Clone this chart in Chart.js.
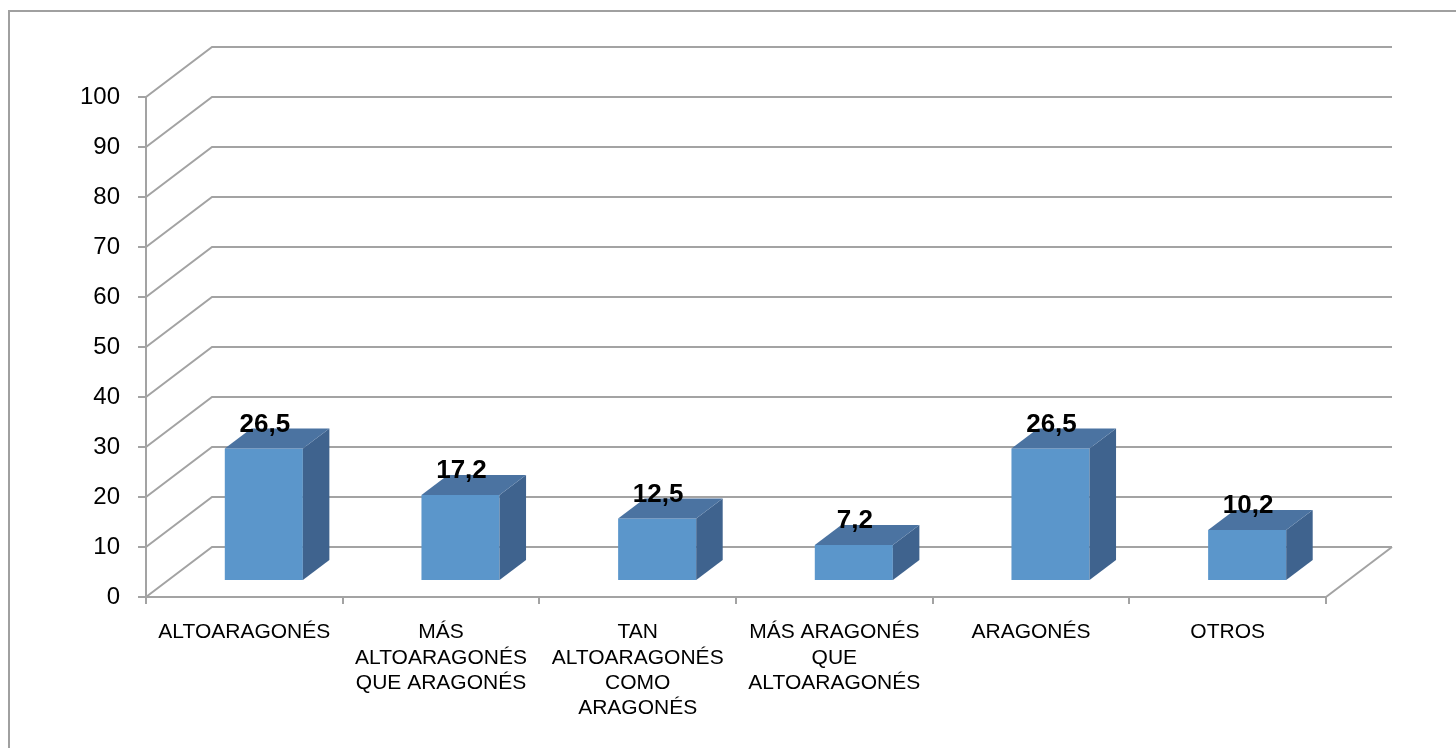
<!DOCTYPE html>
<html>
<head>
<meta charset="utf-8">
<script src="https://cdn.jsdelivr.net/npm/chart.js@4.4.1/dist/chart.umd.min.js"></script>
<style>
  html, body { margin: 0; padding: 0; background: #fff; }
  #wrap { width: 1456px; height: 748px; }
</style>
</head>
<body>
<div id="wrap"><canvas id="chart" width="1456" height="748"></canvas></div>
<script>
const categories = [
  ['ALTOARAGONÉS'],
  ['MÁS', 'ALTOARAGONÉS', 'QUE ARAGONÉS'],
  ['TAN', 'ALTOARAGONÉS', 'COMO', 'ARAGONÉS'],
  ['MÁS ARAGONÉS', 'QUE', 'ALTOARAGONÉS'],
  ['ARAGONÉS'],
  ['OTROS']
]
const values = [26.5, 17.2, 12.5, 7.2, 26.5, 10.2]
const yMin = 0
const yMax = 100
const yStep = 10

const gridColor = '#a3a3a3'
const frontColor = '#5b96cb'
const topColor = '#4b73a1'
const sideColor = '#3f638e'

// depth of the 3d box (back wall offset)
const DX = 66, DY = -50
// where the bar front sits inside the box, and how deep the bars are
const barOffX = 19.5, barOffY = -16
const barDepthX = 26.5, barDepthY = -20

const threeD = {
  id: 'threeD',
  beforeDraw(chart) {
    const c = chart.ctx
    c.save()
    c.strokeStyle = '#a0a0a0'
    c.lineWidth = 2
    c.strokeRect(9, 11, 1460, 760)
    c.restore()
  },
  beforeDatasetsDraw(chart) {
    const c = chart.ctx
    const a = chart.chartArea
    const ys = chart.scales.y
    c.save()
    c.strokeStyle = gridColor
    c.lineWidth = 2
    for (let v = yMin; v <= yMax; v += yStep) {
      const yf = ys.getPixelForValue(v)
      c.beginPath()
      c.moveTo(a.left, yf)
      c.lineTo(a.left + DX, yf + DY)
      c.lineTo(a.right + DX, yf + DY)
      c.stroke()
    }
    c.beginPath()
    c.moveTo(a.right, a.bottom)
    c.lineTo(a.right + DX, a.bottom + DY)
    c.stroke()
    c.restore()
    // bars front face drawn by chart.js, pushed into the box
    c.save()
    c.translate(barOffX, barOffY)
  },
  afterDatasetsDraw(chart) {
    const c = chart.ctx
    c.restore()
    const meta = chart.getDatasetMeta(0)
    const dx = barDepthX, dy = barDepthY
    c.save()
    meta.data.forEach((el, i) => {
      const l = el.x - el.width / 2 + barOffX
      const r = el.x + el.width / 2 + barOffX
      const t = el.y + barOffY
      const b = el.base + barOffY
      c.fillStyle = sideColor
      c.beginPath()
      c.moveTo(r, t); c.lineTo(r + dx, t + dy); c.lineTo(r + dx, b + dy); c.lineTo(r, b)
      c.closePath(); c.fill()
      c.fillStyle = topColor
      c.beginPath()
      c.moveTo(l, t); c.lineTo(l + dx, t + dy); c.lineTo(r + dx, t + dy); c.lineTo(r, t)
      c.closePath(); c.fill()
      c.fillStyle = '#000'
      c.font = 'bold 26px Arial, "Liberation Sans", sans-serif'
      c.textAlign = 'center'
      c.textBaseline = 'alphabetic'
      c.fillText(values[i].toFixed(1).replace('.', ','), (l + r) / 2 + 1, t - 17)
    })
    c.restore()
  }
}

new Chart(document.getElementById('chart'), {
  type: 'bar',
  data: {
    labels: categories,
    datasets: [{
      data: values,
      backgroundColor: frontColor,
      borderWidth: 0,
      categoryPercentage: 1,
      barPercentage: 0.397
    }]
  },
  options: {
    responsive: false,
    animation: false,
    layout: { padding: { top: 97, right: 130, left: 0, bottom: 0 } },
    plugins: { legend: { display: false }, tooltip: { enabled: false } },
    scales: {
      x: {
        afterFit(scale) { scale.height = 151 },
        grid: { offset: true, drawOnChartArea: false, tickLength: 7, color: gridColor, lineWidth: 2 },
        border: { color: gridColor, width: 2 },
        ticks: {
          autoSkip: false, maxRotation: 0, padding: 16, color: '#000',
          font: { family: 'Arial, "Liberation Sans", sans-serif', size: 21, lineHeight: 1.2 }
        }
      },
      y: {
        min: yMin, max: yMax,
        afterFit(scale) { scale.width = 146 },
        grid: { drawOnChartArea: false, tickLength: 8, color: gridColor, lineWidth: 2 },
        border: { color: gridColor, width: 2 },
        ticks: {
          stepSize: yStep, padding: 18, color: '#000',
          font: { family: 'Arial, "Liberation Sans", sans-serif', size: 24 }
        }
      }
    }
  },
  plugins: [threeD]
})
</script>
</body>
</html>
